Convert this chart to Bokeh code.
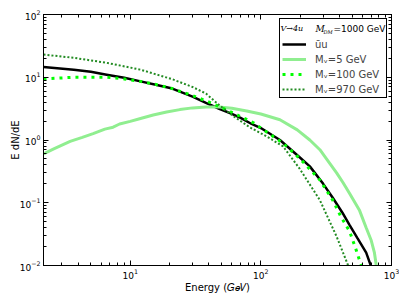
from bokeh.plotting import figure
from bokeh.models import Range1d, LogAxis, Legend, LegendItem, Label, LogTicker, CustomJSTickFormatter
from bokeh.embed import file_html
from bokeh.resources import INLINE

# ---- data ----
E_uu = [2.17, 3.7, 5, 6.6, 9, 12, 16, 21, 24, 30, 38, 48, 60, 70, 85, 100, 140, 198, 237, 300, 355, 420, 478, 550, 640, 700, 740]
dN_uu = [14.6, 13.2, 12.2, 11.0, 9.8, 8.6, 7.5, 6.6, 5.9, 4.9, 3.9, 3.15, 2.6, 2.25, 1.8, 1.55, 1.0, 0.53, 0.38, 0.2, 0.12, 0.07, 0.044, 0.027, 0.016, 0.0095, 0.0065]

E_5 = [2.17, 2.6, 3.47, 4.3, 5.2, 6.4, 7.4, 8.3, 10, 12, 15, 19, 24, 30, 38, 48, 60, 78, 100, 140, 190, 237, 283, 318, 380, 425, 478, 570, 640, 700, 740, 765]
dN_5 = [0.60, 0.72, 0.95, 1.10, 1.26, 1.49, 1.60, 1.80, 1.98, 2.2, 2.5, 2.8, 3.05, 3.25, 3.35, 3.35, 3.2, 2.9, 2.6, 2.1, 1.45, 1.0, 0.7, 0.5, 0.3, 0.21, 0.14, 0.075, 0.04, 0.025, 0.016, 0.01]

E_100 = [2.17, 3.7, 6.6, 9, 12, 16, 21, 30, 43, 60, 87, 148, 200, 283, 355, 410, 478, 535, 570, 600]
dN_100 = [9.4, 10.0, 10.0, 9.4, 8.6, 7.6, 6.6, 5.1, 3.8, 2.75, 1.9, 0.89, 0.5, 0.23, 0.11, 0.06, 0.035, 0.018, 0.012, 0.009]

E_970 = [2.17, 3.7, 6.6, 12, 21, 30, 38, 48, 60, 82, 110, 148, 198, 283, 380, 450, 475]
dN_970 = [23, 20.4, 17, 13.2, 9.3, 7.0, 5.5, 3.6, 2.5, 1.6, 1.15, 0.79, 0.35, 0.11, 0.029, 0.012, 0.009]

labels = ["ūu", "Mᵥ=5 GeV", "Mᵥ=100 GeV", "Mᵥ=970 GeV"]
x_label = "Energy (𝐺𝑒𝑉)"
y_label = "E dN/dE"

FONT = "DejaVu Sans"

p = figure(x_axis_type="log", y_axis_type="log",
           x_range=Range1d(2.17, 1000), y_range=Range1d(0.01, 100),
           width=399, height=297,
           min_border_left=43, min_border_top=14, min_border_right=8, min_border_bottom=32,
           output_backend="svg", toolbar_location=None)
p.grid.visible = False
p.outline_line_color = "black"
p.outline_line_width = 1
p.background_fill_color = "white"
p.border_fill_color = "white"

r_uu = p.line(E_uu, dN_uu, line_color="black", line_width=2.5)
r_5 = p.line(E_5, dN_5, line_color="#90EE90", line_width=3)
r_100 = p.line(E_100, dN_100, line_color="#00FF00", line_width=3, line_dash="3 5")
r_970 = p.line(E_970, dN_970, line_color="#228B22", line_width=2, line_dash="2 2")

def style_axis(ax, show_labels=True):
    ax.ticker = LogTicker(num_minor_ticks=10)
    ax.major_tick_in = 5
    ax.major_tick_out = 0
    ax.minor_tick_in = 3
    ax.minor_tick_out = 0
    ax.axis_line_color = "black"
    ax.major_tick_line_color = "black"
    ax.minor_tick_line_color = "black"
    ax.major_label_text_font = FONT
    ax.major_label_text_font_size = "9px"
    ax.major_label_text_color = "black"
    ax.major_label_standoff = 3
    ax.axis_label_text_font = FONT
    ax.axis_label_text_font_size = "10px"
    ax.axis_label_text_font_style = "normal"
    ax.axis_label_text_color = "black"
    ax.axis_label_standoff = 0
    if not show_labels:
        ax.formatter = CustomJSTickFormatter(code="return ''")
        ax.major_label_standoff = 0

style_axis(p.xaxis[0])
style_axis(p.yaxis[0])
p.xaxis[0].axis_label = x_label
p.yaxis[0].axis_label = y_label
p.yaxis[0].axis_label_standoff = -4

top = LogAxis()
right = LogAxis()
style_axis(top, False)
style_axis(right, False)
p.add_layout(top, "above")
p.add_layout(right, "right")

legend = Legend(items=[LegendItem(label=labels[0], renderers=[r_uu]),
                       LegendItem(label=labels[1], renderers=[r_5]),
                       LegendItem(label=labels[2], renderers=[r_100]),
                       LegendItem(label=labels[3], renderers=[r_970])],
                location="top_right", title="V→4u",
                title_text_font_size="9px", title_standoff=7,
                title_text_color=None,
                label_text_font=FONT, label_text_font_size="10px",
                label_height=12, glyph_height=12, glyph_width=24,
                label_standoff=9, spacing=3, padding=2, margin=4,
                label_width=69,
                border_line_color="black", border_line_width=1, border_line_alpha=1.0,
                background_fill_alpha=0.0)
p.add_layout(legend)

# legend title pieces (math-style)
ty = 237
title_parts = [
    ("V→4u", 237, ty, "DejaVu Serif", "italic", "8px"),
    ("M", 272, ty, "DejaVu Serif", "italic", "9px"),
    ("DM", 280, ty - 3, "DejaVu Serif", "italic", "5px"),
    ("=1000 GeV", 290, ty, FONT, "normal", "9px"),
]
for txt, sx, sy, fnt, sty, fs in title_parts:
    p.add_layout(Label(x=sx, y=sy, x_units="screen", y_units="screen", text=txt,
                       text_font=fnt, text_font_style=sty, text_font_size=fs,
                       text_color="black", text_baseline="middle"))

open("out.html", "w").write(file_html(p, INLINE))
